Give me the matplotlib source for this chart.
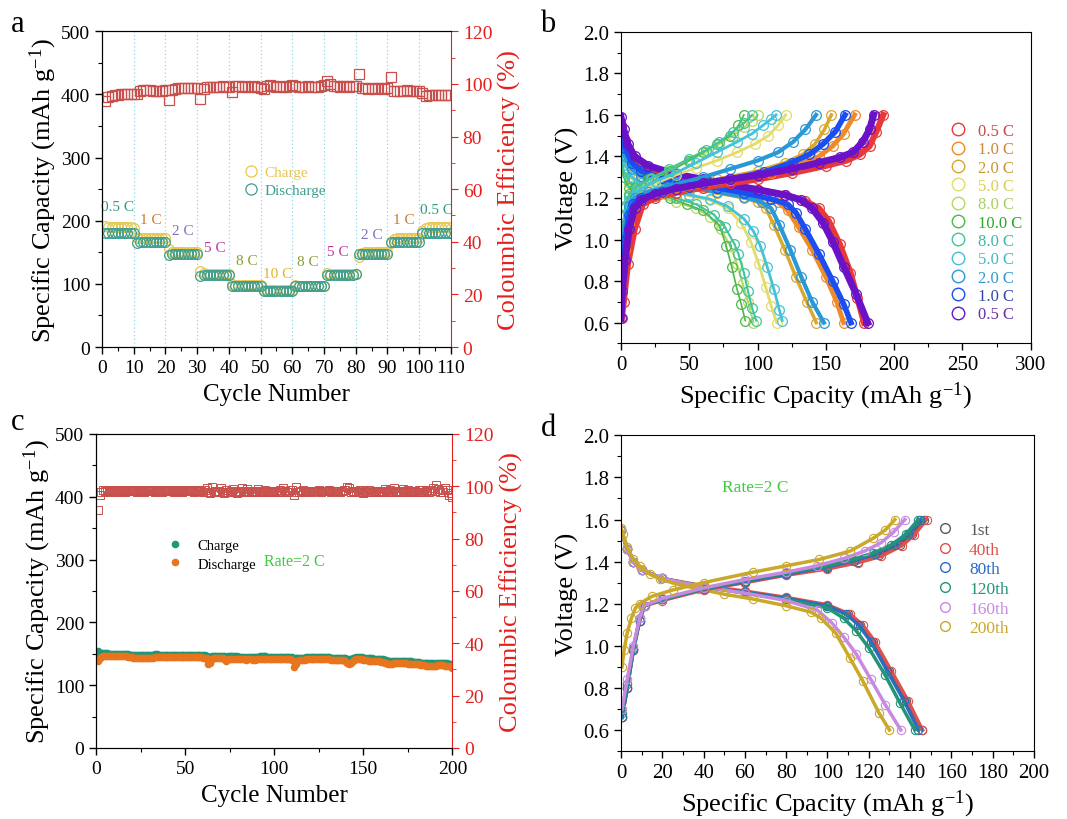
import matplotlib.pyplot as plt
from matplotlib.lines import Line2D
from matplotlib.ticker import MultipleLocator

plt.rcParams['font.family'] = ['Liberation Serif', 'DejaVu Serif']
plt.rcParams['mathtext.default'] = 'regular'

# ---------------- panel a : rate capability ----------------
a_cycles = list(range(1, 111))
a_charge = [192, 190, 190, 190, 190, 190, 190, 190, 190, 189,
            173, 172, 172, 172, 172, 172, 172, 172, 172, 172,
            155, 151, 151, 151, 151, 151, 151, 151, 151, 151,
            121, 117, 116, 116, 116, 116, 116, 116, 116, 116,
            100, 98, 98, 98, 98, 98, 98, 98, 98, 98,
            91, 90, 90, 90, 90, 90, 90, 90, 90, 90,
            98, 97, 97, 97, 97, 97, 97, 97, 97, 97,
            117, 116, 116, 116, 116, 116, 116, 116, 116, 116,
            143, 149, 150, 150, 150, 150, 150, 150, 150, 150,
            164, 171, 172, 172, 172, 172, 172, 172, 172, 172,
            183, 188, 190, 190, 190, 190, 190, 190, 190, 189]
a_discharge = [181, 180, 180, 180, 180, 180, 180, 180, 180, 180,
               164, 166, 166, 166, 166, 166, 166, 167, 167, 167,
               145, 147, 147, 147, 147, 147, 147, 147, 147, 147,
               113, 114, 114, 114, 114, 114, 114, 114, 114, 114,
               96, 96, 96, 96, 96, 96, 96, 96, 96, 96,
               89, 88, 88, 88, 88, 88, 88, 88, 88, 89,
               96, 96, 96, 96, 96, 96, 96, 96, 96, 96,
               114, 114, 114, 114, 114, 114, 114, 114, 114, 115,
               147, 148, 148, 148, 148, 148, 148, 148, 148, 148,
               167, 167, 167, 167, 167, 167, 167, 167, 167, 167,
               180, 181, 181, 181, 181, 181, 181, 181, 181, 181]
a_ce = [93.5, 95.0, 95.5, 95.8, 95.8, 96.0, 96.0, 96.0, 96.0, 96.2,
        96.0, 97.5, 97.8, 97.8, 97.8, 97.5, 97.5, 97.5, 97.5, 97.8,
        94.0, 97.8, 98.2, 98.5, 98.5, 98.5, 98.5, 98.5, 98.5, 98.5,
        94.2, 98.2, 98.8, 99.0, 99.0, 98.8, 99.0, 99.2, 99.0, 98.8,
        97.0, 99.2, 99.2, 99.0, 99.2, 99.0, 99.0, 99.2, 99.0, 98.5,
        98.2, 99.2, 99.5, 99.2, 99.0, 99.2, 99.0, 98.8, 99.2, 99.5,
        99.2, 99.0, 98.8, 99.0, 99.2, 99.0, 98.8, 99.0, 99.2, 99.5,
        101.0, 100.0, 99.2, 99.2, 99.0, 99.2, 99.2, 99.0, 99.2, 99.2,
        103.8, 98.5, 98.5, 98.2, 98.5, 98.2, 98.5, 98.5, 98.2, 98.5,
        102.5, 97.5, 97.5, 97.5, 97.5, 97.8, 97.5, 97.5, 97.5, 97.5,
        96.5, 95.5, 95.8, 95.8, 95.8, 95.8, 95.8, 95.8, 95.8, 95.8]
a_rate_text = ['0.5 C', '1 C', '2 C', '5 C', '8 C', '10 C', '8 C', '5 C', '2 C', '1 C', '0.5 C']
a_rate_colors = ['#2b9a82', '#d0782a', '#7a72b4', '#c0339a', '#84a030', '#e3b21e',
                 '#84a030', '#c0339a', '#7a72b4', '#d0782a', '#2b9a82']
# label anchor points (layout)
a_rate_x = [5, 15.5, 25.5, 35.5, 45.5, 55.5, 65, 74.5, 85, 95, 105.5]
a_rate_y = [223, 202, 184, 158, 137, 117, 136, 151, 178, 202, 218]

# ---------------- panel b : charge/discharge at different rates ----------------
b_labels = ['0.5 C', '1.0 C', '2.0 C', '5.0 C', '8.0 C', '10.0 C', '8.0 C', '5.0 C', '2.0 C', '1.0 C', '0.5 C']
b_colors = ['#e8383a', '#ee8a2a', '#d8a830', '#e2dc6a', '#b4d860', '#4cb848',
            '#40c4a0', '#46c2d6', '#2a98d4', '#1a4ef0', '#6a12c8']
b_text_colors = ['#c84848', '#c88840', '#c89830', '#d8d050', '#a8d060', '#28a828',
                 '#40b8a0', '#40b8c8', '#3098c8', '#3048a8', '#6830a8']
b_dis_q = [
    [0, 3, 8, 15, 25, 40, 60, 80, 100, 120, 135, 145, 152, 160, 168, 173, 178],
    [0, 3, 8, 15, 30, 50, 70, 90, 105, 115, 122, 130, 140, 150, 158, 163],
    [0, 3, 8, 15, 30, 50, 70, 90, 100, 106, 112, 120, 128, 136, 143],
    [0, 3, 8, 15, 30, 50, 65, 78, 88, 95, 101, 106, 110, 114],
    [0, 2, 6, 12, 25, 40, 55, 65, 73, 80, 85, 89, 93, 97],
    [0, 2, 6, 12, 25, 36, 48, 60, 72, 77, 81, 85, 88, 91],
    [0, 2, 6, 12, 25, 40, 55, 68, 76, 83, 86, 90, 93, 96, 99],
    [0, 3, 8, 15, 30, 50, 65, 78, 90, 97, 102, 107, 112, 116, 118],
    [0, 3, 8, 15, 30, 50, 70, 90, 103, 110, 116, 124, 132, 140, 148.6],
    [0, 3, 8, 15, 30, 50, 70, 90, 110, 122, 128, 135, 145, 155, 163, 168.4],
    [0, 2, 5, 10, 20, 40, 60, 80, 100, 120, 132, 140, 148, 155, 163, 172, 180.6]]
b_dis_v = [
    [1.55, 1.48, 1.40, 1.35, 1.33, 1.31, 1.285, 1.265, 1.24, 1.215, 1.185, 1.15, 1.09, 0.98, 0.84, 0.72, 0.60],
    [1.50, 1.42, 1.36, 1.32, 1.29, 1.265, 1.245, 1.22, 1.20, 1.18, 1.14, 1.06, 0.95, 0.82, 0.70, 0.60],
    [1.48, 1.39, 1.33, 1.30, 1.27, 1.245, 1.225, 1.20, 1.18, 1.15, 1.07, 0.95, 0.82, 0.70, 0.60],
    [1.45, 1.36, 1.30, 1.27, 1.24, 1.21, 1.19, 1.15, 1.08, 0.99, 0.88, 0.77, 0.68, 0.60],
    [1.42, 1.33, 1.27, 1.24, 1.21, 1.18, 1.15, 1.11, 1.05, 0.97, 0.88, 0.79, 0.70, 0.60],
    [1.40, 1.30, 1.25, 1.23, 1.21, 1.20, 1.17, 1.14, 1.07, 0.97, 0.87, 0.76, 0.69, 0.61],
    [1.42, 1.33, 1.28, 1.25, 1.22, 1.20, 1.17, 1.12, 1.06, 0.98, 0.93, 0.84, 0.75, 0.67, 0.61],
    [1.45, 1.36, 1.30, 1.27, 1.24, 1.215, 1.195, 1.16, 1.10, 1.04, 0.97, 0.87, 0.76, 0.66, 0.61],
    [1.48, 1.40, 1.34, 1.305, 1.275, 1.25, 1.23, 1.205, 1.18, 1.15, 1.07, 0.95, 0.82, 0.70, 0.60],
    [1.52, 1.44, 1.37, 1.33, 1.295, 1.27, 1.25, 1.225, 1.195, 1.17, 1.13, 1.05, 0.93, 0.80, 0.69, 0.60],
    [1.59, 1.53, 1.46, 1.40, 1.355, 1.315, 1.29, 1.265, 1.24, 1.215, 1.19, 1.15, 1.08, 0.99, 0.87, 0.74, 0.60]]
b_chg_q = [
    [0.5, 2, 5, 10, 16, 25, 40, 60, 80, 100, 125, 150, 165, 175, 182, 187, 192],
    [0.5, 3, 6, 10, 15, 30, 50, 80, 110, 130, 145, 155, 163, 171],
    [0.5, 3, 6, 10, 20, 40, 70, 100, 120, 133, 142, 149, 154],
    [0.5, 3, 6, 12, 25, 40, 55, 70, 85, 98, 108, 115, 120.6],
    [0.5, 3, 6, 12, 22, 35, 50, 62, 72, 82, 90, 96, 100],
    [0.5, 3, 6, 10, 20, 36, 50, 60, 70, 80, 86, 90],
    [0.5, 3, 6, 12, 22, 35, 50, 62, 72, 82, 90, 96],
    [0.5, 3, 6, 12, 25, 40, 55, 70, 85, 96, 104, 110, 113.5],
    [0.5, 3, 6, 10, 20, 40, 60, 80, 100, 115, 126, 135, 142.8],
    [0.5, 3, 6, 9, 15, 30, 50, 80, 105, 125, 138, 148, 157, 164],
    [0, 1, 3, 6, 10, 15, 25, 40, 60, 80, 100, 125, 145, 160, 170, 177, 182, 185]]
b_chg_v = [
    [0.62, 0.70, 0.88, 1.05, 1.17, 1.20, 1.225, 1.25, 1.27, 1.29, 1.32, 1.355, 1.38, 1.41, 1.45, 1.52, 1.60],
    [0.75, 0.95, 1.08, 1.16, 1.195, 1.225, 1.25, 1.285, 1.32, 1.36, 1.40, 1.45, 1.51, 1.60],
    [0.90, 1.05, 1.15, 1.19, 1.22, 1.25, 1.29, 1.33, 1.37, 1.41, 1.46, 1.53, 1.60],
    [0.95, 1.12, 1.19, 1.23, 1.27, 1.31, 1.345, 1.38, 1.42, 1.46, 1.50, 1.55, 1.60],
    [1.00, 1.15, 1.21, 1.25, 1.29, 1.33, 1.38, 1.42, 1.46, 1.50, 1.54, 1.57, 1.60],
    [1.00, 1.16, 1.22, 1.25, 1.29, 1.33, 1.38, 1.42, 1.46, 1.50, 1.55, 1.60],
    [1.00, 1.15, 1.21, 1.255, 1.295, 1.34, 1.39, 1.43, 1.47, 1.52, 1.56, 1.60],
    [0.95, 1.12, 1.19, 1.235, 1.28, 1.32, 1.37, 1.42, 1.47, 1.51, 1.55, 1.58, 1.60],
    [0.92, 1.07, 1.16, 1.20, 1.23, 1.265, 1.30, 1.34, 1.38, 1.42, 1.47, 1.53, 1.60],
    [0.85, 1.00, 1.12, 1.17, 1.20, 1.23, 1.255, 1.29, 1.325, 1.37, 1.41, 1.46, 1.52, 1.60],
    [0.62, 0.75, 0.90, 1.05, 1.15, 1.19, 1.22, 1.245, 1.27, 1.29, 1.31, 1.34, 1.37, 1.395, 1.42, 1.47, 1.53, 1.60]]
# line widths of the dense marker bands (style)
b_band_lw = [4.5, 3.5, 2.5, 2, 1.5, 1.2, 1.5, 2, 3, 4, 5]

# ---------------- panel c : long cycling at 2 C ----------------
c_cycles = list(range(1, 201))
c_charge = [154, 150, 151, 151, 151, 151, 150, 150, 150, 150, 150, 150, 149, 149, 149, 149, 149, 149, 148, 148,
            148, 148, 148, 148, 148, 148, 148, 148, 148, 148, 148, 148, 149, 149, 148, 148, 148, 148, 148, 148,
            148, 148, 148, 148, 148, 148, 148, 148, 148, 148, 148, 148, 148, 148, 148, 148, 148, 148, 148, 148,
            148, 147, 140, 145, 147, 147, 147, 146, 146, 146, 146, 146, 145, 146, 146, 146, 146, 146, 146, 145,
            145, 145, 145, 144, 145, 145, 145, 145, 145, 145, 145, 146, 146, 146, 146, 145, 145, 145, 145, 145,
            145, 145, 145, 145, 145, 145, 145, 145, 145, 145, 139, 143, 144, 144, 144, 144, 144, 145, 145, 145,
            145, 145, 145, 145, 145, 145, 145, 145, 145, 145, 145, 144, 144, 144, 144, 144, 144, 144, 144, 143,
            141, 141, 141, 143, 144, 145, 145, 145, 145, 144, 144, 144, 143, 143, 143, 142, 142, 142, 142, 141,
            141, 140, 140, 139, 139, 139, 139, 139, 139, 139, 139, 139, 139, 139, 139, 138, 138, 137, 137, 137,
            137, 136, 136, 136, 135, 135, 135, 135, 135, 134, 135, 136, 136, 136, 136, 135, 135, 134, 134, 133]
c_discharge = [139, 143, 145, 146, 146, 147, 147, 147, 147, 147, 146, 146, 146, 146, 146, 146, 146, 145, 145, 145,
               144, 144, 144, 144, 144, 144, 144, 144, 144, 144, 144, 144, 145, 145, 145, 145, 145, 145, 145, 145,
               145, 145, 145, 145, 145, 145, 145, 145, 145, 145, 145, 145, 145, 145, 145, 145, 145, 145, 145, 144,
               144, 143, 133, 136, 141, 143, 143, 143, 143, 143, 143, 142, 138, 142, 142, 142, 142, 142, 142, 141,
               141, 141, 141, 140, 141, 141, 141, 140, 140, 141, 141, 142, 142, 142, 142, 141, 141, 141, 141, 141,
               141, 141, 141, 141, 141, 141, 141, 141, 141, 140, 129, 134, 139, 140, 140, 140, 140, 141, 141, 141,
               141, 141, 141, 141, 141, 141, 141, 141, 141, 141, 141, 140, 140, 140, 140, 140, 140, 140, 140, 138,
               135, 134, 136, 139, 140, 141, 141, 141, 141, 140, 140, 140, 139, 139, 139, 138, 138, 138, 138, 137,
               137, 136, 135, 134, 134, 134, 135, 135, 135, 135, 135, 135, 135, 135, 134, 134, 134, 133, 133, 133,
               133, 132, 132, 132, 131, 131, 131, 131, 130, 130, 131, 132, 132, 132, 132, 131, 131, 130, 129, 128]
c_ce = [91.0, 96.5, 98.0, 98.5, 98.2, 98.5, 98.0, 98.3, 98.5, 98.2, 98.4, 98.0, 98.5, 98.2, 98.3, 98.0, 98.4, 98.5, 98.1, 98.3,
        98.2, 98.4, 98.0, 98.3, 98.5, 98.2, 98.0, 98.4, 98.3, 98.1, 98.4, 98.2, 98.0, 98.5, 98.3, 98.2, 98.0, 98.4, 98.2, 98.3,
        98.1, 98.4, 98.2, 98.0, 98.3, 98.5, 98.2, 98.0, 98.4, 98.2, 98.3, 98.1, 98.4, 98.2, 98.0, 98.3, 98.5, 98.1, 98.3, 98.0,
        98.4, 99.5, 98.0, 97.5, 99.8, 98.0, 98.3, 97.8, 98.2, 99.5, 98.0, 97.6, 98.4, 98.0, 97.8, 98.2, 99.0, 98.0, 97.6, 98.2,
        98.0, 99.2, 98.3, 97.8, 99.0, 98.2, 98.0, 97.7, 98.3, 98.1, 99.0, 98.0, 98.2, 97.8, 98.4, 98.0, 98.2, 97.9, 98.3, 98.0,
        98.2, 97.8, 98.4, 98.0, 99.5, 98.2, 98.0, 97.8, 98.4, 98.6, 96.5, 99.8, 98.0, 97.7, 98.2, 98.4, 98.0, 98.3, 98.1, 98.2,
        98.0, 98.3, 98.2, 98.1, 98.4, 98.0, 98.2, 98.3, 98.1, 98.2, 98.4, 98.0, 98.2, 98.3, 98.1, 98.2, 98.0, 98.3, 98.4, 98.6,
        99.6, 99.2, 98.0, 98.3, 97.8, 98.2, 97.8, 98.4, 98.0, 97.6, 98.2, 97.8, 98.4, 98.0, 97.9, 98.3, 97.7, 98.2, 98.0, 97.8,
        98.3, 99.0, 98.1, 97.8, 98.4, 98.0, 99.2, 98.1, 97.8, 98.3, 98.0, 99.0, 98.2, 97.9, 98.4, 98.0, 98.3, 97.8, 98.2, 98.0,
        98.4, 98.0, 98.5, 97.8, 98.3, 98.6, 98.0, 98.4, 99.5, 98.2, 100.5, 99.0, 98.0, 98.6, 97.8, 99.3, 98.4, 96.5, 97.5, 96.0]

# ---------------- panel d : selected cycles at 2 C ----------------
d_labels = ['1st', '40th', '80th', '120th', '160th', '200th']
d_colors = ['#555a60', '#e0504c', '#2a6cc0', '#239478', '#c78ae0', '#c9a82a']
d_chg_q = [
    [0.5, 3, 6, 9, 11, 20, 40, 60, 80, 100, 115, 125, 135, 141, 147],
    [0.5, 3, 6, 9, 11.5, 20, 40, 60, 80, 100, 115, 126, 136, 142, 148],
    [0.5, 3, 6, 9, 11, 20, 40, 60, 80, 100, 113, 123, 132, 139, 145],
    [0.5, 3, 6, 9, 11, 20, 40, 60, 80, 100, 112, 122, 131, 138, 144],
    [0.5, 3, 6, 9, 11, 20, 40, 60, 80, 95, 108, 118, 126, 132, 137.5],
    [0.5, 1.5, 3, 5, 7, 9, 15, 25, 40, 64, 80, 96, 111, 122, 128, 132.7]]
d_chg_v = [
    [0.66, 0.80, 0.98, 1.12, 1.19, 1.22, 1.27, 1.305, 1.34, 1.37, 1.40, 1.43, 1.48, 1.53, 1.60],
    [0.66, 0.80, 0.98, 1.12, 1.19, 1.215, 1.265, 1.30, 1.335, 1.365, 1.395, 1.425, 1.475, 1.525, 1.60],
    [0.66, 0.80, 0.98, 1.12, 1.19, 1.22, 1.27, 1.305, 1.34, 1.375, 1.405, 1.435, 1.48, 1.53, 1.60],
    [0.68, 0.82, 0.99, 1.13, 1.19, 1.22, 1.27, 1.31, 1.345, 1.38, 1.41, 1.44, 1.48, 1.53, 1.60],
    [0.70, 0.84, 1.00, 1.13, 1.19, 1.225, 1.275, 1.315, 1.35, 1.38, 1.415, 1.45, 1.49, 1.54, 1.60],
    [0.90, 0.98, 1.06, 1.13, 1.18, 1.20, 1.235, 1.265, 1.30, 1.35, 1.38, 1.41, 1.45, 1.51, 1.55, 1.60]]
d_dis_q = [
    [0, 3, 6, 10, 20, 40, 60, 80, 100, 110, 116, 122, 130, 138, 146],
    [0, 3, 6, 10, 20, 40, 60, 80, 100, 111, 117, 123, 131, 139, 146],
    [0, 3, 6, 10, 20, 40, 60, 80, 100, 109, 115, 121, 129, 137, 144],
    [0, 3, 6, 10, 20, 40, 60, 80, 100, 108, 114, 120, 128, 135, 142.3],
    [0, 3, 6, 10, 20, 40, 60, 80, 95, 102, 108, 114, 121, 128, 135.5],
    [0, 1, 3, 6, 9, 14, 19, 28, 38, 50, 64, 80, 92, 97, 104, 111, 117, 125, 130]]
d_dis_v = [
    [1.55, 1.46, 1.40, 1.36, 1.32, 1.28, 1.255, 1.225, 1.19, 1.15, 1.10, 1.02, 0.88, 0.74, 0.60],
    [1.55, 1.46, 1.40, 1.36, 1.32, 1.285, 1.26, 1.23, 1.195, 1.15, 1.10, 1.02, 0.88, 0.74, 0.60],
    [1.55, 1.46, 1.40, 1.36, 1.32, 1.28, 1.255, 1.225, 1.19, 1.15, 1.10, 1.02, 0.88, 0.74, 0.60],
    [1.55, 1.46, 1.40, 1.36, 1.32, 1.28, 1.25, 1.22, 1.18, 1.13, 1.07, 0.99, 0.86, 0.73, 0.60],
    [1.55, 1.46, 1.40, 1.36, 1.32, 1.28, 1.25, 1.215, 1.17, 1.11, 1.04, 0.96, 0.84, 0.72, 0.60],
    [1.56, 1.53, 1.47, 1.41, 1.38, 1.34, 1.317, 1.29, 1.27, 1.245, 1.222, 1.19, 1.16, 1.13, 1.06, 0.94, 0.835, 0.68, 0.60]]

RED = '#e3201c'
CE_RED = '#c8504c'
TICK = 14
LAB = 19

fig = plt.figure(figsize=(10.67, 8.2), dpi=100)


def style_axis(ax, fs):
    ax.tick_params(which='both', direction='out', labelsize=fs, top=False, right=False)
    ax.tick_params(which='major', length=5, width=1)
    ax.tick_params(which='minor', length=3, width=0.8)


def red_twin(ax):
    ax2 = ax.twinx()
    ax2.set_ylim(0, 120)
    ax2.yaxis.set_major_locator(MultipleLocator(20))
    ax2.yaxis.set_minor_locator(MultipleLocator(10))
    ax2.spines['right'].set_color(RED)
    ax.spines['right'].set_visible(False)
    ax2.tick_params(which='both', direction='out', colors=RED, labelsize=TICK)
    ax2.tick_params(which='major', length=5)
    ax2.tick_params(which='minor', length=3)
    ax2.set_ylabel('Coloumbic Efficiency (%)', color=RED, fontsize=LAB, labelpad=4)
    return ax2


# ---- a ----
ax = fig.add_axes([0.0956, 0.5756, 0.327, 0.385])
for xv in range(10, 110, 10):
    ax.axvline(xv, color='#8fd8ec', lw=0.9, ls=(0, (1, 2)))
ax.plot(a_cycles, a_charge, 'o', mfc='none', mec='#e8c64e', ms=7, mew=0.9, label='Charge')
ax.plot(a_cycles, a_discharge, 'o', mfc='none', mec='#3d9e8e', ms=7, mew=0.9, label='Discharge')
for t, x, y, c in zip(a_rate_text, a_rate_x, a_rate_y, a_rate_colors):
    ax.text(x, y, t, color=c, fontsize=11, ha='center', va='center')
ax.set_xlim(0, 110)
ax.set_ylim(0, 500)
ax.xaxis.set_major_locator(MultipleLocator(10))
ax.xaxis.set_minor_locator(MultipleLocator(5))
ax.yaxis.set_major_locator(MultipleLocator(100))
ax.yaxis.set_minor_locator(MultipleLocator(50))
style_axis(ax, TICK)
ax.set_xlabel('Cycle Number', fontsize=18, labelpad=5)
ax.set_ylabel('Specific Capacity (mAh g$^{-1}$)', fontsize=LAB, labelpad=1)
ax.legend(loc='center left', bbox_to_anchor=(0.36, 0.525), frameon=False, fontsize=11,
          handletextpad=0.3, labelspacing=0.25, labelcolor='markeredgecolor', handlelength=1.2,
          markerscale=1.15)
ax2 = red_twin(ax)
ax2.plot(a_cycles, a_ce, 's', mfc='none', mec=CE_RED, ms=6.5, mew=0.9)

# ---- b ----
ax = fig.add_axes([0.582, 0.580, 0.384, 0.380])
for q, v, c, w in zip(b_dis_q, b_dis_v, b_colors, b_band_lw):
    ax.plot(q, v, '-o', color=c, lw=w, mfc='none', mec=c, ms=7, mew=0.9)
for q, v, c, w in zip(b_chg_q, b_chg_v, b_colors, b_band_lw):
    ax.plot(q, v, '-o', color=c, lw=w, mfc='none', mec=c, ms=7, mew=0.9)
ax.set_xlim(0, 300)
ax.set_ylim(0.5, 2.0)
ax.xaxis.set_major_locator(MultipleLocator(50))
ax.xaxis.set_minor_locator(MultipleLocator(25))
ax.yaxis.set_major_locator(MultipleLocator(0.2))
ax.yaxis.set_minor_locator(MultipleLocator(0.1))
ax.yaxis.set_major_formatter(plt.FormatStrFormatter('%.1f'))
style_axis(ax, 15)
ax.set_xlabel('Specific Cpacity (mAh g$^{-1}$)', fontsize=LAB, labelpad=4)
ax.set_ylabel('Voltage (V)', fontsize=LAB, labelpad=3)
handles = [Line2D([], [], ls='none', marker='o', mfc='none', mec=c, ms=9, mew=1) for c in b_colors]
leg = ax.legend(handles, b_labels, loc='upper left', bbox_to_anchor=(0.765, 0.755), frameon=False,
                fontsize=12, handletextpad=0.7, labelspacing=0.14, handlelength=1.0)
for t, c in zip(leg.get_texts(), b_text_colors):
    t.set_color(c)

# ---- c ----
ax = fig.add_axes([0.090, 0.0866, 0.334, 0.383])
ax.plot(c_cycles, c_charge, 'o', color='#1f9676', ms=5.5, mew=0, label='Charge')
ax.plot(c_cycles, c_discharge, 'o', color='#e8741e', ms=5.5, mew=0, label='Discharge')
ax.set_xlim(0, 200)
ax.set_ylim(0, 500)
ax.xaxis.set_major_locator(MultipleLocator(50))
ax.xaxis.set_minor_locator(MultipleLocator(25))
ax.yaxis.set_major_locator(MultipleLocator(100))
ax.yaxis.set_minor_locator(MultipleLocator(50))
style_axis(ax, TICK)
ax.set_xlabel('Cycle Number', fontsize=18, labelpad=5)
ax.set_ylabel('Specific Capacity (mAh g$^{-1}$)', fontsize=LAB, labelpad=1)
ax.legend(loc='center left', bbox_to_anchor=(0.165, 0.615), frameon=False, fontsize=10.5,
          handletextpad=1.0, labelspacing=0.35, handlelength=1.0, markerscale=1.0)
ax.text(94, 298, 'Rate=2 C', color='#3ccc3c', fontsize=11.5, ha='left', va='center')
ax2 = red_twin(ax)
ax2.plot(c_cycles, c_ce, 's', mfc='none', mec=CE_RED, ms=5.5, mew=0.7)

# ---- d ----
ax = fig.add_axes([0.582, 0.0829, 0.387, 0.385])
for q, v, c in zip(d_dis_q, d_dis_v, d_colors):
    ax.plot(q, v, '-o', color=c, lw=2.5, mfc='none', mec=c, ms=6, mew=0.8)
for q, v, c in zip(d_chg_q, d_chg_v, d_colors):
    ax.plot(q, v, '-o', color=c, lw=2.5, mfc='none', mec=c, ms=6, mew=0.8)
ax.text(65, 1.755, 'Rate=2 C', color='#3ccc3c', fontsize=12.5, ha='center', va='center')
ax.set_xlim(0, 200)
ax.set_ylim(0.5, 2.0)
ax.xaxis.set_major_locator(MultipleLocator(20))
ax.xaxis.set_minor_locator(MultipleLocator(10))
ax.yaxis.set_major_locator(MultipleLocator(0.2))
ax.yaxis.set_minor_locator(MultipleLocator(0.1))
ax.yaxis.set_major_formatter(plt.FormatStrFormatter('%.1f'))
style_axis(ax, 15)
ax.set_xlabel('Specific Cpacity (mAh g$^{-1}$)', fontsize=LAB, labelpad=4)
ax.set_ylabel('Voltage (V)', fontsize=LAB, labelpad=3)
handles = [Line2D([], [], ls='none', marker='o', mfc='none', mec=c, ms=7, mew=1) for c in d_colors]
leg = ax.legend(handles, d_labels, loc='upper left', bbox_to_anchor=(0.725, 0.775), frameon=False,
                fontsize=12.5, handletextpad=0.9, labelspacing=0.2, handlelength=1.0)
for t, c in zip(leg.get_texts(), d_colors):
    t.set_color(c)

for lbl, x, y in [('a', 0.010, 0.97), ('b', 0.506, 0.97), ('c', 0.010, 0.485), ('d', 0.507, 0.478)]:
    fig.text(x, y, lbl, fontsize=22, ha='left', va='center')

fig.savefig('out.png', dpi=100)
